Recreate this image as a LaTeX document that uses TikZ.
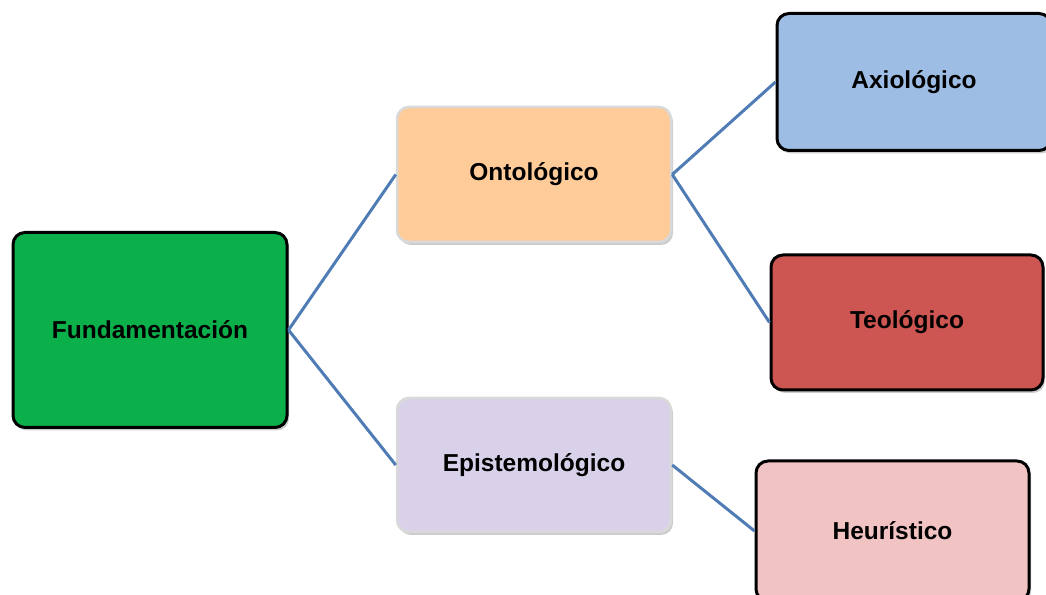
\documentclass[tikz,border=0pt]{standalone}
\usepackage{fontspec}
\setmainfont{Liberation Sans}
\usetikzlibrary{shadows}
\definecolor{cgreen}{HTML}{0BB04B}
\definecolor{corange}{HTML}{FFCC99}
\definecolor{clav}{HTML}{D9D1E9}
\definecolor{cblue}{HTML}{9DBDE4}
\definecolor{cred}{HTML}{CD5652}
\definecolor{cpink}{HTML}{F2C3C3}
\definecolor{cline}{HTML}{4F7CB5}
\tikzset{
  box/.style={rectangle, rounded corners=12pt, line width=3pt, draw=black,
    font=\bfseries\fontsize{24.5}{28}\selectfont, text=black,
    drop shadow={shadow xshift=2pt, shadow yshift=-3pt, opacity=0.4}},
  softbox/.style={box, draw=white!85!black, line width=2.5pt},
  link/.style={draw=cline, line width=3pt}
}
\begin{document}
\begin{tikzpicture}[x=1pt,y=1pt]
\useasboundingbox (0,0) rectangle (1046,594);
\begin{scope}
\clip (0,0) rectangle (1046,594);
\node[box, fill=cgreen, minimum width=274pt, minimum height=195pt] (fund) at (150,264) {Fundamentación};
\node[softbox, fill=corange, minimum width=274pt, minimum height=135pt] (onto) at (534,419.5) {Ontológico};
\node[softbox, fill=clav, minimum width=274pt, minimum height=134pt] (epis) at (534,129) {Epistemológico};
\node[box, fill=cblue, minimum width=274pt, minimum height=137pt] (axio) at (914,512) {Axiológico};
\node[box, fill=cred, minimum width=272pt, minimum height=135pt] (teo) at (907,271.5) {Teológico};
\node[box, fill=cpink, minimum width=273pt, minimum height=140pt] (heur) at (892.5,63) {Heurístico};
\end{scope}
\draw[link] (fund.east) -- (onto.west);
\draw[link] (fund.east) -- (epis.west);
\draw[link] (onto.east) -- (axio.west);
\draw[link] (onto.east) -- (teo.west);
\draw[link] (epis.east) -- (heur.west);
\end{tikzpicture}
\end{document}
